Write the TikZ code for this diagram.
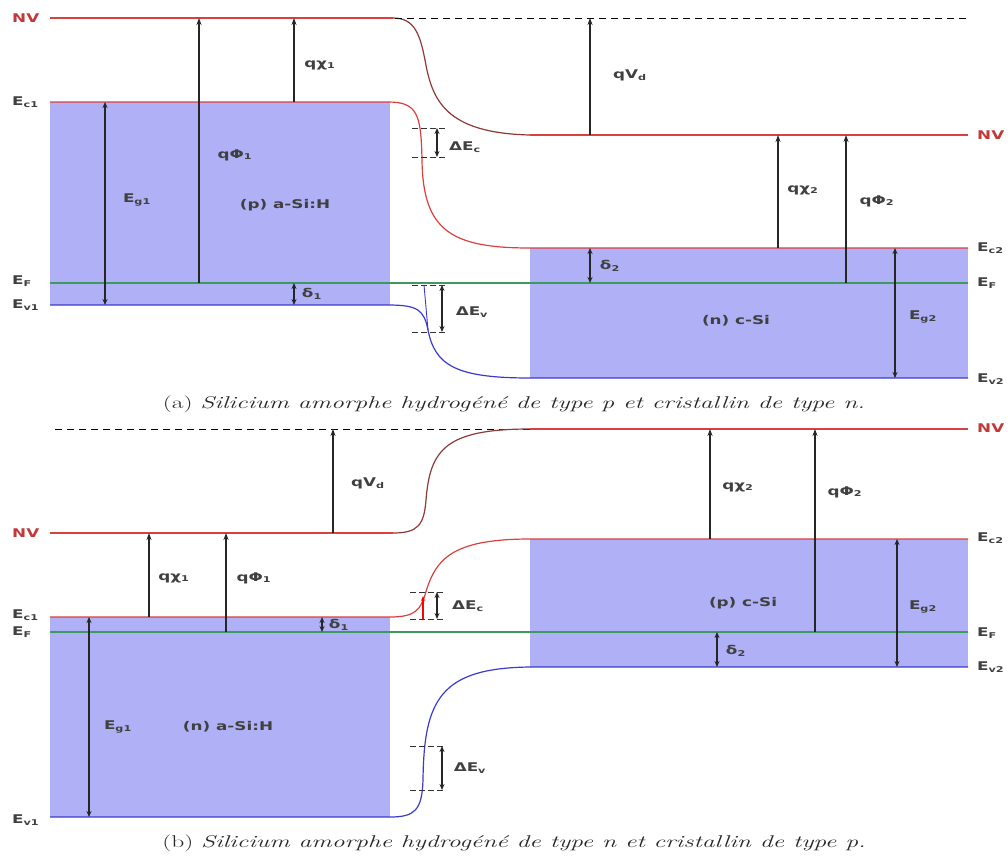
\documentclass[tikz,border=0pt]{standalone}
\usepackage{fontspec}
\usetikzlibrary{arrows.meta}
\newfontfamily\lblfont{DejaVu Sans}
\definecolor{bandfill}{HTML}{AFB0F5}
\definecolor{lvlred}{HTML}{D9403F}
\definecolor{nvcurve}{HTML}{8E3838}
\definecolor{fermigreen}{HTML}{3C9A5F}
\definecolor{lvlblue}{HTML}{3A3AD0}
\definecolor{nvtext}{HTML}{C03A3A}
\newcommand{\wide}[1]{\scalebox{1.4}[1]{#1}}
\newcommand{\capwide}[1]{\scalebox{1.5}[1]{#1}}

\begin{document}
\begin{tikzpicture}[
    x=1pt, y=-1pt,
    lvl/.style={line width=1.2pt},
    cband/.style={lvl, draw=lvlred},
    vband/.style={lvl, draw=lvlblue},
    fermi/.style={lvl, draw=fermigreen},
    vacbend/.style={lvl, draw=nvcurve},
    vacdash/.style={line width=1pt, dash pattern=on 7pt off 5pt},
    arr/.style={-{Stealth[length=7pt,width=5pt]}, line width=1.3pt, black!85},
    darr/.style={{Stealth[length=6pt,width=5pt]}-{Stealth[length=6pt,width=5pt]}, line width=1.3pt, black!85},
    tick/.style={line width=0.8pt, black!80, dash pattern=on 6pt off 3pt},
    lab/.style={font=\lblfont\bfseries\fontsize{12}{13}\selectfont, text=black!75, inner sep=0pt},
    nvlab/.style={lab, text=nvtext},
    capt/.style={font=\fontsize{17}{19}\selectfont, text=black!85, inner sep=0pt}
  ]
  \useasboundingbox (0,0) rectangle (1008,857);

  % ---------- (a) p a-Si:H / n c-Si ----------
  \fill[bandfill] (50,102) rectangle (390,305);
  \fill[bandfill] (530,248) rectangle (968,378);

  \draw[cband] (50,18) -- (393,18);
  \draw[vacbend] (393,18) .. controls (415,18) and (420,35) .. (425,60)
                 .. controls (432,100) and (445,133) .. (530,135);
  \draw[vacdash] (395,18) -- (968,18);
  \draw[cband] (530,135) -- (968,135);

  \draw[cband] (50,102) -- (388,102) .. controls (418,102) and (421,115) .. (422,160)
               .. controls (423,230) and (450,248) .. (530,248) -- (968,248);
  \draw[fermi] (50,283) -- (968,283);
  \draw[vband] (50,305) -- (388,305) .. controls (418,305) and (424,310) .. (428,330)
               .. controls (435,365) and (455,378) .. (530,378) -- (968,378);
  \draw[lvlblue, line width=0.9pt] (424,285) -- (428,330);

  % band offsets
  \draw[tick] (412,128) -- (445,128);
  \draw[tick] (412,157) -- (445,157);
  \draw[tick] (412,285) -- (445,285);
  \draw[tick] (412,332) -- (445,332);

  \coordinate (a-dec-t) at (437,128);  \coordinate (a-dec-b) at (437,157);
  \coordinate (a-dev-t) at (442,285);  \coordinate (a-dev-b) at (442,332);
  \coordinate (a-eg1-t) at (105,102);  \coordinate (a-eg1-b) at (105,305);
  \coordinate (a-phi1-b) at (199,283); \coordinate (a-phi1-t) at (199,18);
  \coordinate (a-chi1-b) at (294,102); \coordinate (a-chi1-t) at (294,18);
  \coordinate (a-del1-t) at (294,283); \coordinate (a-del1-b) at (294,305);
  \coordinate (a-vd-b) at (590,135);   \coordinate (a-vd-t) at (590,18);
  \coordinate (a-del2-t) at (590,248); \coordinate (a-del2-b) at (590,283);
  \coordinate (a-chi2-b) at (778,248); \coordinate (a-chi2-t) at (778,135);
  \coordinate (a-phi2-b) at (846,283); \coordinate (a-phi2-t) at (846,135);
  \coordinate (a-eg2-t) at (895,248);  \coordinate (a-eg2-b) at (895,378);

  \draw[darr] (a-dec-t) -- (a-dec-b);
  \draw[darr] (a-dev-t) -- (a-dev-b);
  \draw[darr] (a-eg1-t) -- (a-eg1-b);
  \draw[arr] (a-phi1-b) -- (a-phi1-t);
  \draw[arr] (a-chi1-b) -- (a-chi1-t);
  \draw[darr] (a-del1-t) -- (a-del1-b);
  \draw[arr] (a-vd-b) -- (a-vd-t);
  \draw[darr] (a-del2-t) -- (a-del2-b);
  \draw[arr] (a-chi2-b) -- (a-chi2-t);
  \draw[arr] (a-phi2-b) -- (a-phi2-t);
  \draw[darr] (a-eg2-t) -- (a-eg2-b);

  \node[nvlab, anchor=west] (a-nvl) at (12,18) {\wide{NV}};
  \node[lab, anchor=west] (a-ec1) at (12,102) {\wide{E\textsubscript{c1}}};
  \node[lab, anchor=west] (a-efl) at (12,281) {\wide{E\textsubscript{F}}};
  \node[lab, anchor=west] (a-ev1) at (12,305) {\wide{E\textsubscript{v1}}};
  \node[nvlab, anchor=west] (a-nvr) at (977,135) {\wide{NV}};
  \node[lab, anchor=west] (a-ec2) at (977,248) {\wide{E\textsubscript{c2}}};
  \node[lab, anchor=west] (a-efr) at (977,283) {\wide{E\textsubscript{F}}};
  \node[lab, anchor=west] (a-ev2) at (977,379) {\wide{E\textsubscript{v2}}};

  \node[lab] (a-eg1) at (137,200) {\wide{E\textsubscript{g1}}};
  \node[lab] (a-phi1) at (235,155) {\wide{qΦ\textsubscript{1}}};
  \node[lab] (a-chi1) at (320,65) {\wide{qχ\textsubscript{1}}};
  \node[lab] (a-pa) at (285,205) {\wide{(p) a-Si:H}};
  \node[lab] (a-del1) at (312,294) {\wide{δ\textsubscript{1}}};
  \node[lab] (a-dec) at (465,147) {\wide{ΔE\textsubscript{c}}};
  \node[lab] (a-dev) at (472,312) {\wide{ΔE\textsubscript{v}}};
  \node[lab] (a-vd) at (630,75) {\wide{qV\textsubscript{d}}};
  \node[lab] (a-del2) at (610,266) {\wide{δ\textsubscript{2}}};
  \node[lab] (a-chi2) at (803,190) {\wide{qχ\textsubscript{2}}};
  \node[lab] (a-phi2) at (877,201) {\wide{qΦ\textsubscript{2}}};
  \node[lab] (a-nc) at (736,321) {\wide{(n) c-Si}};
  \node[lab] (a-eg2) at (923,317) {\wide{E\textsubscript{g2}}};

  \node[capt] (cap-a) at (514,404) {\capwide{(a) \textit{Silicium amorphe hydrogéné de type p et cristallin de type n.}}};

  % ---------- (b) n a-Si:H / p c-Si ----------
  \fill[bandfill] (50,617) rectangle (390,817);
  \fill[bandfill] (530,539) rectangle (968,667);

  \draw[vacdash] (55,429) -- (533,429);
  \draw[cband] (50,533) -- (393,533);
  \draw[vacbend] (393,533) .. controls (418,533) and (424,525) .. (426,500)
                 .. controls (430,450) and (445,429) .. (530,429);
  \draw[cband] (530,429) -- (968,429);

  \draw[cband] (50,617) -- (390,617) .. controls (415,617) and (420,610) .. (425,595)
               .. controls (435,560) and (450,539) .. (530,539) -- (968,539);
  \draw[fermi] (50,632) -- (968,632);
  \draw[vband] (50,817) -- (390,817) .. controls (415,817) and (422,810) .. (423,780)
               .. controls (424,700) and (440,668) .. (530,667) -- (968,667);

  \draw[tick] (410,592) -- (443,592);
  \draw[tick] (410,619) -- (443,619);
  \draw[tick] (410,746) -- (445,746);
  \draw[tick] (410,790) -- (445,790);

  \coordinate (b-red-b) at (423,619);  \coordinate (b-red-t) at (423,596);
  \coordinate (b-dec-t) at (437,592);  \coordinate (b-dec-b) at (437,619);
  \coordinate (b-dev-t) at (442,746);  \coordinate (b-dev-b) at (442,790);
  \coordinate (b-vd-b) at (333,533);   \coordinate (b-vd-t) at (333,429);
  \coordinate (b-chi1-b) at (149,617); \coordinate (b-chi1-t) at (149,533);
  \coordinate (b-phi1-b) at (226,632); \coordinate (b-phi1-t) at (226,533);
  \coordinate (b-del1-t) at (322,617); \coordinate (b-del1-b) at (322,632);
  \coordinate (b-eg1-t) at (89,617);   \coordinate (b-eg1-b) at (89,817);
  \coordinate (b-chi2-b) at (710,539); \coordinate (b-chi2-t) at (710,429);
  \coordinate (b-phi2-b) at (815,632); \coordinate (b-phi2-t) at (815,429);
  \coordinate (b-del2-t) at (717,632); \coordinate (b-del2-b) at (717,667);
  \coordinate (b-eg2-t) at (897,539);  \coordinate (b-eg2-b) at (897,667);

  \draw[-{Stealth[length=5pt,width=4pt]}, line width=1.5pt, red] (b-red-b) -- (b-red-t);
  \draw[darr] (b-dec-t) -- (b-dec-b);
  \draw[darr] (b-dev-t) -- (b-dev-b);
  \draw[arr] (b-vd-b) -- (b-vd-t);
  \draw[arr] (b-chi1-b) -- (b-chi1-t);
  \draw[arr] (b-phi1-b) -- (b-phi1-t);
  \draw[darr] (b-del1-t) -- (b-del1-b);
  \draw[darr] (b-eg1-t) -- (b-eg1-b);
  \draw[arr] (b-chi2-b) -- (b-chi2-t);
  \draw[arr] (b-phi2-b) -- (b-phi2-t);
  \draw[darr] (b-del2-t) -- (b-del2-b);
  \draw[darr] (b-eg2-t) -- (b-eg2-b);

  \node[nvlab, anchor=west] (b-nvl) at (12,533) {\wide{NV}};
  \node[lab, anchor=west] (b-ec1) at (12,615) {\wide{E\textsubscript{c1}}};
  \node[lab, anchor=west] (b-efl) at (12,632) {\wide{E\textsubscript{F}}};
  \node[lab, anchor=west] (b-ev1) at (12,820) {\wide{E\textsubscript{v1}}};
  \node[nvlab, anchor=west] (b-nvr) at (977,428) {\wide{NV}};
  \node[lab, anchor=west] (b-ec2) at (977,538) {\wide{E\textsubscript{c2}}};
  \node[lab, anchor=west] (b-efr) at (977,633) {\wide{E\textsubscript{F}}};
  \node[lab, anchor=west] (b-ev2) at (977,667) {\wide{E\textsubscript{v2}}};

  \node[lab] (b-vd) at (368,483) {\wide{qV\textsubscript{d}}};
  \node[lab] (b-chi1) at (174,578) {\wide{qχ\textsubscript{1}}};
  \node[lab] (b-phi1) at (254,578) {\wide{qΦ\textsubscript{1}}};
  \node[lab] (b-del1) at (339,625) {\wide{δ\textsubscript{1}}};
  \node[lab] (b-dec) at (468,606) {\wide{ΔE\textsubscript{c}}};
  \node[lab] (b-dev) at (470,768) {\wide{ΔE\textsubscript{v}}};
  \node[lab] (b-eg1) at (118,727) {\wide{E\textsubscript{g1}}};
  \node[lab] (b-na) at (228,727) {\wide{(n) a-Si:H}};
  \node[lab] (b-chi2) at (738,487) {\wide{qχ\textsubscript{2}}};
  \node[lab] (b-phi2) at (845,492) {\wide{qΦ\textsubscript{2}}};
  \node[lab] (b-pc) at (743,603) {\wide{(p) c-Si}};
  \node[lab] (b-del2) at (736,651) {\wide{δ\textsubscript{2}}};
  \node[lab] (b-eg2) at (923,607) {\wide{E\textsubscript{g2}}};

  \node[capt] (cap-b) at (514,843) {\capwide{(b) \textit{Silicium amorphe hydrogéné de type n et cristallin de type p.}}};
\end{tikzpicture}
\end{document}
